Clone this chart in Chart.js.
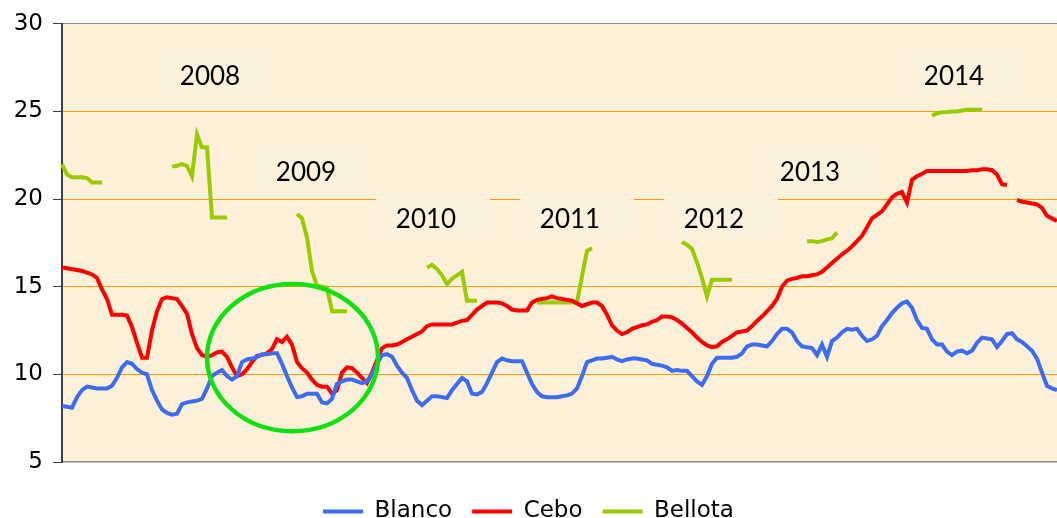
<!DOCTYPE html>
<html>
<head>
<meta charset="utf-8">
<title>Precios Blanco / Cebo / Bellota</title>
<script src="https://cdn.jsdelivr.net/npm/chart.js@4.4.1/dist/chart.umd.min.js"></script>
<style>
  html, body { margin: 0; padding: 0; background: #fff; overflow: hidden; }
  #wrap { width: 1057px; height: 518px; position: relative; }
</style>
</head>
<body>
<div id="wrap"><canvas id="precios"></canvas></div>
<script>
// weekly quotes, 2008 -> mid 2014 (one value per week slot)
const weeks = Array.from({ length: 200 }, (_, i) => i + 1);

const blanco = [
  8.2, 8.15, 8.1, 8.7, 9.1, 9.3, 9.25, 9.2, 9.2, 9.2,
  9.35, 9.8, 10.4, 10.7, 10.6, 10.3, 10.1, 10.0, 9.1, 8.5,
  8.0, 7.8, 7.7, 7.75, 8.3, 8.4, 8.45, 8.5, 8.6, 9.2,
  9.9, 10.1, 10.25, 9.9, 9.7, 9.9, 10.7, 10.85, 10.9, 11.0,
  11.15, 11.15, 11.2, 11.2, 10.6, 9.9, 9.25, 8.7, 8.75, 8.9,
  8.9, 8.9, 8.4, 8.35, 8.6, 9.45, 9.6, 9.7, 9.7, 9.6,
  9.5, 9.6, 10.0, 10.6, 11.1, 11.15, 11.0, 10.5, 10.1, 9.8,
  9.1, 8.5, 8.25, 8.5, 8.75, 8.75, 8.7, 8.65, 9.1, 9.45,
  9.8, 9.6, 8.9, 8.85, 9.0, 9.5, 10.1, 10.7, 10.9, 10.8,
  10.75, 10.75, 10.75, 10.1, 9.45, 9.0, 8.75, 8.7, 8.7, 8.7,
  8.75, 8.8, 8.9, 9.2, 9.9, 10.7, 10.8, 10.9, 10.9, 10.95,
  11.0, 10.85, 10.75, 10.85, 10.9, 10.9, 10.85, 10.8, 10.6, 10.55,
  10.5, 10.4, 10.2, 10.25, 10.2, 10.2, 9.9, 9.6, 9.4, 9.9,
  10.6, 10.95, 10.95, 10.95, 10.95, 11.0, 11.2, 11.6, 11.7, 11.7,
  11.65, 11.6, 11.9, 12.3, 12.6, 12.6, 12.4, 11.9, 11.6, 11.55,
  11.5, 11.1, 11.7, 11.0, 11.9, 12.1, 12.4, 12.6, 12.55, 12.6,
  12.2, 11.9, 12.0, 12.2, 12.75, 13.1, 13.5, 13.8, 14.05, 14.15,
  13.8, 13.1, 12.65, 12.6, 12.0, 11.7, 11.7, 11.3, 11.1, 11.3,
  11.35, 11.2, 11.35, 11.8, 12.1, 12.05, 12.0, 11.55, 11.9, 12.3,
  12.35, 12.0, 11.85, 11.6, 11.35, 10.9, 10.1, 9.35, 9.2, 9.1
];

const cebo = [
  16.1, 16.05, 16.0, 15.95, 15.9, 15.8, 15.7, 15.5, 14.85, 14.3,
  13.4, 13.4, 13.4, 13.35, 12.7, 11.8, 10.95, 10.95, 12.5, 13.6,
  14.3, 14.4, 14.35, 14.3, 13.9, 13.45, 12.3, 11.5, 11.1, 11.0,
  11.1, 11.25, 11.3, 11.0, 10.4, 9.9, 10.0, 10.3, 10.7, 11.05,
  11.1, 11.2, 11.45, 12.0, 11.85, 12.15, 11.7, 10.7, 10.35, 10.1,
  9.7, 9.4, 9.3, 9.3, 8.9, 9.1, 10.1, 10.4, 10.35, 10.1,
  9.8, 9.5, 10.1, 10.8, 11.5, 11.65, 11.65, 11.7, 11.85, 12.0,
  12.15, 12.3, 12.45, 12.75, 12.85, 12.85, 12.85, 12.85, 12.85, 12.95,
  13.05, 13.1, 13.4, 13.7, 13.9, 14.1, 14.1, 14.1, 14.05, 13.9,
  13.7, 13.65, 13.65, 13.65, 14.1, 14.25, 14.3, 14.35, 14.45, 14.35,
  14.3, 14.25, 14.2, 14.05, 13.9, 14.0, 14.1, 14.1, 13.9, 13.4,
  12.8, 12.5, 12.3, 12.4, 12.6, 12.7, 12.8, 12.85, 13.0, 13.1,
  13.3, 13.3, 13.25, 13.1, 12.9, 12.65, 12.4, 12.1, 11.85, 11.65,
  11.55, 11.6, 11.85, 12.0, 12.2, 12.4, 12.45, 12.5, 12.75, 13.05,
  13.3, 13.6, 13.9, 14.3, 15.0, 15.35, 15.45, 15.5, 15.6, 15.6,
  15.65, 15.7, 15.85, 16.1, 16.35, 16.6, 16.85, 17.05, 17.3, 17.6,
  17.9, 18.4, 18.9, 19.1, 19.3, 19.7, 20.1, 20.3, 20.4, 19.8,
  21.1, 21.3, 21.45, 21.6, 21.6, 21.6, 21.6, 21.6, 21.6, 21.6,
  21.6, 21.6, 21.65, 21.65, 21.7, 21.7, 21.65, 21.4, 20.85, 20.8,
  null, 19.95, 19.85, 19.8, 19.75, 19.7, 19.5, 19.05, 18.9, 18.75
];

const bellota = [
  22.0, 21.4, 21.25, 21.25, 21.25, 21.2, 20.95, 20.95, 20.95, null,
  null, null, null, null, null, null, null, null, null, null,
  null, null, 21.85, 21.9, 22.0, 21.9, 21.3, 23.7, 22.95, 22.95,
  18.95, 18.95, 18.95, 18.95, null, null, null, null, null, null,
  null, null, null, null, null, null, null, 19.15, 18.9, 17.8,
  15.9, 15.05, 15.0, 14.95, 13.6, 13.6, 13.6, 13.6, null, null,
  null, null, null, null, null, null, null, null, null, null,
  null, null, null, 16.1, 16.25, 16.0, 15.65, 15.15, 15.45, 15.65,
  15.85, 14.2, 14.2, 14.2, null, null, null, null, null, null,
  null, null, null, null, null, 14.1, 14.1, 14.1, 14.1, 14.1,
  14.1, 14.1, 14.1, 14.1, 15.6, 17.05, 17.2, null, null, null,
  null, null, null, null, null, null, null, null, null, null,
  null, null, null, null, 17.55, 17.4, 17.15, 16.4, 15.5, 14.45,
  15.4, 15.4, 15.4, 15.4, 15.4, null, null, null, null, null,
  null, null, null, null, null, null, null, null, null, 17.6,
  17.6, 17.55, 17.6, 17.7, 17.75, 18.1, null, null, null, null,
  null, null, null, null, null, null, null, null, null, null,
  null, null, null, null, 24.75, 24.9, 24.95, 24.97, 25.0, 25.0,
  25.05, 25.1, 25.1, 25.1, 25.1, null, null, null, null, null,
  null, null, null, null, null, null, null, null, null, null
];

const yTicks = [5, 10, 15, 20, 25, 30];

// campaign labels: text, week slot, price level
const years = ['2008', '2009', '2010', '2011', '2012', '2013', '2014'];
const yearWeek = [29.6, 48.8, 72.8, 101.6, 130.4, 149.6, 178.4];
const yearLevel = [27.0, 21.5, 18.85, 18.85, 18.85, 21.5, 27.0];

// highlighted zone (2009): centre week/price and half spans
const zone = { week: 46.1, price: 10.96, dWeek: 17.1, dPrice: 4.2 };

const BG = '#fcf0d8';

const plotBg = {
  id: 'plotBg',
  beforeDraw(chart) {
    const { ctx, chartArea: a } = chart;
    ctx.save();
    ctx.fillStyle = BG;
    ctx.fillRect(a.left, a.top, a.right - a.left, a.bottom - a.top);
    ctx.restore();
  }
};

const yearTags = {
  id: 'yearTags',
  beforeDatasetsDraw(chart) {
    const { ctx, scales: { x, y } } = chart;
    ctx.save();
    ctx.font = '26px Lato';
    ctx.textAlign = 'center';
    ctx.textBaseline = 'middle';
    years.forEach((t, i) => {
      const px = x.getPixelForValue(yearWeek[i]);
      const py = y.getPixelForValue(yearLevel[i]);
      ctx.fillStyle = '#fcf2dc';
      ctx.fillRect(px - 50, py - 28, 114, 48);
      ctx.fillStyle = '#000';
      ctx.fillText(t, px, py);
    });
    ctx.restore();
  }
};

const zoneRing = {
  id: 'zoneRing',
  afterDatasetsDraw(chart) {
    const { ctx, scales: { x, y } } = chart;
    const cx = x.getPixelForValue(zone.week);
    const cy = y.getPixelForValue(zone.price);
    const rx = x.getPixelForValue(zone.week + zone.dWeek) - cx;
    const ry = cy - y.getPixelForValue(zone.price + zone.dPrice);
    ctx.save();
    ctx.beginPath();
    ctx.ellipse(cx, cy, rx, ry, 0, 0, Math.PI * 2);
    ctx.strokeStyle = '#11e011';
    ctx.lineWidth = 4.5;
    ctx.stroke();
    ctx.restore();
  }
};

function line(label, data, color) {
  return {
    label,
    data,
    borderColor: color,
    backgroundColor: color,
    borderWidth: 4,
    pointRadius: 0,
    tension: 0,
    spanGaps: false
  };
}

new Chart(document.getElementById('precios'), {
  type: 'line',
  data: {
    labels: weeks,
    datasets: [
      line('Blanco', blanco, '#3c6cf0'),
      line('Cebo', cebo, '#ff0000'),
      line('Bellota', bellota, '#99cc00')
    ]
  },
  options: {
    responsive: true,
    maintainAspectRatio: false,
    animation: false,
    devicePixelRatio: 1,
    layout: { padding: { top: 23, left: 0, right: 0, bottom: -15 } },
    plugins: {
      tooltip: { enabled: false },
      legend: {
        position: 'bottom',
        labels: {
          color: '#000',
          font: { family: 'DejaVu Sans', size: 23 },
          usePointStyle: true,
          pointStyle: 'line',
          pointStyleWidth: 40,
          padding: 20
        }
      }
    },
    scales: {
      x: {
        afterFit(scale) { scale.height = 18; },
        grid: { display: false },
        ticks: { display: false },
        border: { color: '#8c8c8c', width: 1.5 }
      },
      y: {
        min: 5,
        max: 30,
        afterFit(scale) { scale.width = 62; },
        afterBuildTicks(scale) { scale.ticks = yTicks.map(v => ({ value: v })); },
        ticks: {
          color: '#000',
          font: { family: 'DejaVu Sans', size: 23 },
          padding: 10
        },
        grid: {
          color: c => c.tick.value === 30 ? '#8c8c8c' : (c.tick.value === 5 ? 'rgba(0,0,0,0)' : '#ff9900'),
          tickColor: '#404040',
          tickLength: 9,
          lineWidth: 1
        },
        border: { color: '#404040', width: 2 }
      }
    }
  },
  plugins: [plotBg, yearTags, zoneRing]
});
</script>
</body>
</html>
